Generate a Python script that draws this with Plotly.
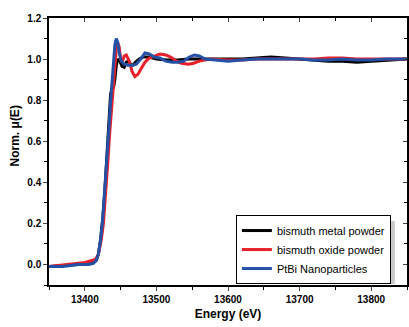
import plotly.graph_objects as go

# ---- data ----
metal_E = [13350, 13390, 13410, 13416, 13419, 13422, 13425, 13428, 13431, 13434, 13436, 13438, 13440,
           13442, 13444, 13446, 13449, 13452, 13455, 13458, 13461, 13464, 13467, 13471, 13476, 13482,
           13490, 13500, 13515, 13530, 13545, 13560, 13580, 13600, 13620, 13640, 13660, 13680, 13700,
           13720, 13740, 13760, 13780, 13800, 13820, 13850]
metal_mu = [-0.01, 0.0, 0.005, 0.02, 0.05, 0.12, 0.22, 0.36, 0.52, 0.70, 0.83, 0.855, 0.86,
            0.90, 0.97, 1.0, 0.99, 0.965, 0.96, 0.985, 0.99, 0.975, 0.97, 0.985, 1.0, 1.01,
            1.01, 1.0, 0.995, 0.995, 1.0, 1.0, 1.0, 1.0, 1.0, 1.005, 1.01, 1.005, 1.0,
            0.995, 0.99, 0.99, 0.985, 0.99, 0.995, 1.0]

oxide_E = [13350, 13380, 13400, 13410, 13415, 13419, 13423, 13426, 13429, 13432, 13435, 13438, 13441,
           13444, 13446, 13448, 13450, 13452, 13455, 13458, 13462, 13466, 13470, 13474, 13479, 13484,
           13490, 13497, 13505, 13513, 13520, 13528, 13535, 13545, 13552, 13560, 13575, 13600, 13620,
           13640, 13660, 13680, 13700, 13720, 13740, 13760, 13780, 13800, 13820, 13850]
oxide_mu = [-0.01, 0.0, 0.01, 0.02, 0.025, 0.05, 0.12, 0.20, 0.33, 0.49, 0.65, 0.80, 0.94,
            1.05, 1.08, 1.06, 1.0, 0.985, 1.015, 1.02, 0.99, 0.94, 0.915, 0.925, 0.955, 0.985,
            1.005, 1.015, 1.025, 1.02, 1.01, 0.99, 0.98, 0.975, 0.98, 0.99, 1.0, 0.995, 0.995,
            1.0, 1.0, 1.0, 1.0, 1.0, 1.005, 1.005, 1.0, 1.0, 1.0, 1.0]

ptbi_E = [13350, 13370, 13390, 13405, 13412, 13416, 13419, 13422, 13425, 13428, 13431, 13434, 13437,
          13440, 13442, 13444, 13446, 13448, 13451, 13455, 13460, 13466, 13472, 13478, 13484, 13490,
          13497, 13505, 13513, 13522, 13530, 13538, 13546, 13553, 13560, 13568, 13580, 13600, 13620,
          13640, 13660, 13680, 13700, 13720, 13740, 13760, 13780, 13800, 13820, 13850]
ptbi_mu = [-0.01, -0.01, 0.0, 0.0, 0.005, 0.02, 0.05, 0.12, 0.22, 0.36, 0.52, 0.68, 0.84,
           0.98, 1.07, 1.10, 1.08, 1.03, 0.99, 0.975, 0.97, 0.97, 0.975, 1.0, 1.03, 1.025,
           1.01, 1.005, 0.99, 0.985, 0.985, 0.99, 1.01, 1.02, 1.015, 1.0, 0.995, 0.99, 0.995,
           1.0, 1.0, 1.0, 1.0, 0.995, 0.995, 1.0, 0.995, 0.995, 1.0, 1.0]

series_names = ["bismuth metal powder", "bismuth oxide powder", "PtBi Nanoparticles"]
series_colors = ["#000000", "#e8202a", "#2451a6"]

x_ticks = [13400, 13500, 13600, 13700, 13800]
x_tick_text = ["13400", "13500", "13600", "13700", "13800"]
y_ticks = [0.0, 0.2, 0.4, 0.6, 0.8, 1.0, 1.2]
y_tick_text = ["0.0", "0.2", "0.4", "0.6", "0.8", "1.0", "1.2"]

FONT = "Liberation Sans, Arial"

fig = go.Figure()
for E, mu, name, col in zip([metal_E, oxide_E, ptbi_E], [metal_mu, oxide_mu, ptbi_mu],
                            series_names, series_colors):
    fig.add_trace(go.Scatter(x=E, y=mu, mode="lines", name=name,
                             line=dict(color=col, width=3)))

# dummy trace for mirrored (inside-tick) axes
fig.add_trace(go.Scatter(x=[13350], y=[-0.1], xaxis="x2", yaxis="y2", mode="markers",
                         marker=dict(opacity=0), showlegend=False, hoverinfo="skip"))

tick_font = dict(family=FONT, size=10, color="#000", weight="bold")

LEG_X, LEG_Y = 0.522, 0.262

fig.update_layout(
    width=409, height=327,
    margin=dict(l=49, r=2, t=18, b=42),
    paper_bgcolor="white", plot_bgcolor="white",
    showlegend=True,
    legend=dict(x=LEG_X, y=LEG_Y, xanchor="left", yanchor="top",
                bgcolor="white", bordercolor="black", borderwidth=1,
                font=dict(family=FONT, size=11, color="#000"),
                tracegroupgap=0, itemwidth=30, traceorder="normal"),
    xaxis=dict(range=[13350, 13850], tickmode="array", tickvals=x_ticks,
               ticktext=x_tick_text,
               ticks="outside", ticklen=4, tickwidth=1.3,
               showline=True, linecolor="black", linewidth=1.5,
               showgrid=False, zeroline=False,
               minor=dict(dtick=50, tick0=13350, ticks="outside", ticklen=3, tickwidth=1.3,
                          tickcolor="black"),
               tickfont=tick_font,
               title=dict(text="Energy (eV)", standoff=6,
                          font=dict(family=FONT, size=12, color="#000", weight="bold"))),
    yaxis=dict(range=[-0.1, 1.2], tickmode="array", tickvals=y_ticks,
               ticktext=y_tick_text,
               ticks="outside", ticklen=4, tickwidth=1.3,
               showline=True, linecolor="black", linewidth=1.5,
               showgrid=False, zeroline=False,
               minor=dict(dtick=0.1, tick0=-0.1, ticks="outside", ticklen=3, tickwidth=1.3,
                          tickcolor="black"),
               tickfont=tick_font),
    xaxis2=dict(overlaying="x", side="top", range=[13350, 13850], tickvals=x_ticks,
                ticks="inside", ticklen=4, tickwidth=1.3, showticklabels=False,
                showline=True, linecolor="black", linewidth=1.5, showgrid=False, zeroline=False,
                minor=dict(dtick=50, tick0=13350, ticks="inside", ticklen=3, tickwidth=1.3,
                           tickcolor="black")),
    yaxis2=dict(overlaying="y", side="right", range=[-0.1, 1.2], tickvals=y_ticks,
                ticks="inside", ticklen=4, tickwidth=1.3, showticklabels=False,
                showline=True, linecolor="black", linewidth=1.5, showgrid=False, zeroline=False,
                minor=dict(dtick=0.1, tick0=-0.1, ticks="inside", ticklen=3, tickwidth=1.3,
                           tickcolor="black")),
)

# soft drop shadow under the legend box
fig.add_shape(type="rect", xref="paper", yref="paper",
              x0=0.531, x1=0.966, y0=0.004, y1=0.24,
              fillcolor="rgba(100,100,100,0.35)", line=dict(width=0), layer="above")

fig.add_annotation(text="<b>Norm. μ(E)</b>", textangle=-90, xref="paper", yref="paper",
                   x=-0.095, y=0.56, xanchor="center", yanchor="middle", showarrow=False,
                   font=dict(family=FONT, size=12, color="#000"))

fig.write_html("out.html")
